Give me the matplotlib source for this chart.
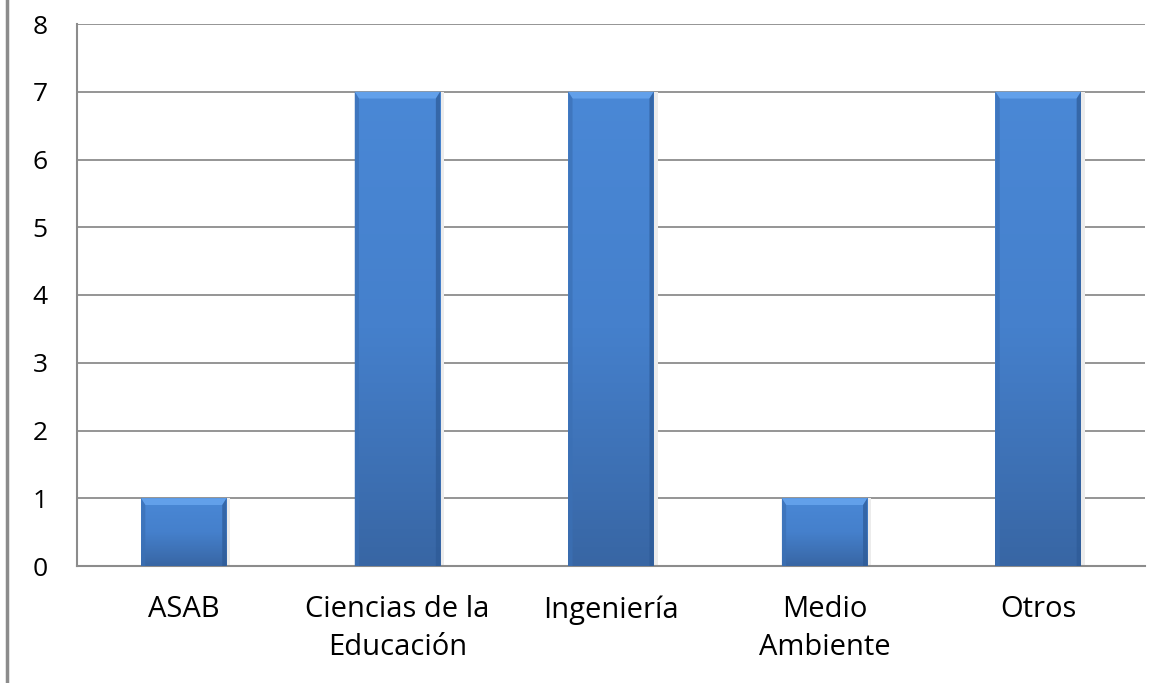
import matplotlib
matplotlib.use("Agg")
import matplotlib.pyplot as plt
import numpy as np
from matplotlib.colors import LinearSegmentedColormap
from matplotlib.lines import Line2D

categories = ["ASAB", "Ciencias de la\nEducación", "Ingeniería", "Medio\nAmbiente", "Otros"]
values = [1, 7, 7, 1, 7]
yticks = [0, 1, 2, 3, 4, 5, 6, 7, 8]

plt.rcParams['font.family'] = ['Open Sans', 'DejaVu Sans']

fig = plt.figure(figsize=(11.68, 6.83), dpi=100)
W, H = 1168, 683
ax = fig.add_axes([77 / W, 1 - 566 / H, (1145 - 77) / W, (566 - 24) / H])

x = np.arange(len(categories))
bw = 0.4
bars = ax.bar(x, values, width=bw, color="#4a7fc4", zorder=3, linewidth=0)

cmap = LinearSegmentedColormap.from_list("b", ["#3866a4", "#4580cc", "#4a88d6"])
grad = np.linspace(0, 1, 256).reshape(-1, 1)
for b, v in zip(bars, values):
    x0 = b.get_x()
    w = b.get_width()
    # shadow
    ax.add_patch(plt.Rectangle((x0 + w, 0), 0.018, v, color="#ececec", zorder=2, lw=0))
    im = ax.imshow(grad, extent=(x0, x0 + w, 0, v), origin="lower", cmap=cmap,
                   aspect="auto", zorder=3.5)
    im.set_clip_path(b)
    bt = 0.1
    bx = 0.02
    ax.add_patch(plt.Polygon([(x0, v), (x0 + w, v), (x0 + w - bx, v - bt), (x0 + bx, v - bt)],
                             closed=True, color="#62a0ea", zorder=4, lw=0))
    ax.add_patch(plt.Polygon([(x0, v), (x0 + bx, v - bt), (x0 + bx, 0), (x0, 0)],
                             closed=True, color="#3b70b5", zorder=4, lw=0, alpha=0.7))
    ax.add_patch(plt.Polygon([(x0 + w, v), (x0 + w - bx, v - bt), (x0 + w - bx, 0), (x0 + w, 0)],
                             closed=True, color="#2d5a96", zorder=4, lw=0, alpha=0.7))

ax.set_xlim(-0.5, len(categories) - 0.5)
ax.set_ylim(0, 8)
ax.set_yticks(yticks)
ax.set_yticklabels([str(t) for t in yticks])
ax.set_xticks(x)
ax.set_xticklabels(categories, linespacing=1.42)
ax.tick_params(axis="both", length=0, colors="#000000")
ax.tick_params(axis="y", pad=21, labelsize=19)
ax.tick_params(axis="x", pad=21, labelsize=21)
ax.yaxis.grid(True, color="#8c8c8c", linewidth=1.3, zorder=0)
ax.set_axisbelow(True)
for s in ["top", "right"]:
    ax.spines[s].set_visible(False)
ax.spines["left"].set_color("#8c8c8c")
ax.spines["left"].set_linewidth(1.5)
ax.spines["bottom"].set_color("#8c8c8c")
ax.spines["bottom"].set_linewidth(1.5)

fig.add_artist(Line2D([7 / W, 7 / W], [0, 1], color="#8c8c8c", linewidth=2.5,
                      transform=fig.transFigure))

fig.savefig("out.png", dpi=100)
